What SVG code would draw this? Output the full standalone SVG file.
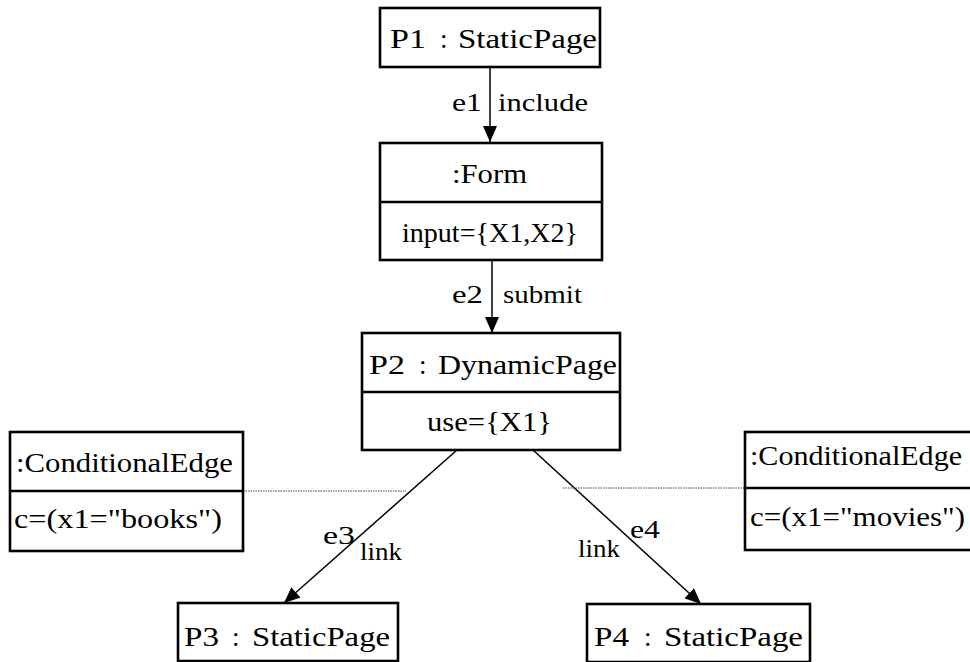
<svg xmlns="http://www.w3.org/2000/svg" width="970" height="662" viewBox="0 0 970 662">
  <style>
    .box { fill: #ffffff; stroke: #000000; stroke-width: 2.6; }
    .div { stroke: #000000; stroke-width: 2.6; fill: none; }
    .t { font-family: "Liberation Serif", "DejaVu Serif", serif; font-size: 27px; fill: #000000; }
    .lbl { font-family: "Liberation Serif", "DejaVu Serif", serif; font-size: 26px; fill: #000000; }
    .edge { stroke: #000000; stroke-width: 1.5; fill: none; }
    .note { stroke: #444444; stroke-width: 1; stroke-dasharray: 1.5 1; fill: none; }
  </style>
  <defs>
    <marker id="arrow" viewBox="0 0 16 14" refX="16" refY="7" markerWidth="16" markerHeight="14" markerUnits="userSpaceOnUse" orient="auto">
      <path d="M0,0 L16,7 L0,14 Z" fill="#000000"/>
    </marker>
  </defs>

  <!-- connectors -->
  <g id="connectors">
    <line class="edge" x1="490" y1="67" x2="490" y2="142" marker-end="url(#arrow)"/>
    <line class="edge" x1="492" y1="260" x2="492" y2="333" marker-end="url(#arrow)"/>
    <line class="edge" x1="457" y1="450" x2="284" y2="603" marker-end="url(#arrow)"/>
    <line class="edge" x1="533" y1="450" x2="701" y2="604" marker-end="url(#arrow)"/>
    <line class="note" x1="243" y1="491" x2="406" y2="491"/>
    <line class="note" x1="563" y1="488" x2="745" y2="488"/>
    <text class="lbl" x="452" y="111" textLength="30" lengthAdjust="spacingAndGlyphs">e1</text>
    <text class="lbl" x="498" y="111" textLength="90" lengthAdjust="spacingAndGlyphs">include</text>
    <text class="lbl" x="452" y="303" textLength="31" lengthAdjust="spacingAndGlyphs">e2</text>
    <text class="lbl" x="503" y="303" textLength="79" lengthAdjust="spacingAndGlyphs">submit</text>
    <text class="lbl" x="323" y="544" textLength="32" lengthAdjust="spacingAndGlyphs">e3</text>
    <text class="lbl" x="360" y="560" textLength="42" lengthAdjust="spacingAndGlyphs">link</text>
    <text class="lbl" x="630" y="538" textLength="30" lengthAdjust="spacingAndGlyphs">e4</text>
    <text class="lbl" x="578" y="557" textLength="42" lengthAdjust="spacingAndGlyphs">link</text>
  </g>

  <!-- P1 : StaticPage -->
  <g id="p1">
    <rect class="box" x="380" y="8" width="220" height="59"/>
    <text class="t" y="48"><tspan x="390" textLength="36" lengthAdjust="spacingAndGlyphs">P1</tspan><tspan x="440">:</tspan><tspan x="458" textLength="139" lengthAdjust="spacingAndGlyphs">StaticPage</tspan></text>
  </g>

  <!-- :Form -->
  <g id="form">
    <rect class="box" x="380" y="143" width="222" height="117"/>
    <line class="div" x1="380" y1="202" x2="602" y2="202"/>
    <text class="t" x="452" y="183" textLength="75" lengthAdjust="spacingAndGlyphs">:Form</text>
    <text class="t" x="402" y="242" textLength="176" lengthAdjust="spacingAndGlyphs">input={X1,X2}</text>
  </g>

  <!-- P2 : DynamicPage -->
  <g id="p2">
    <rect class="box" x="362" y="333" width="258" height="117"/>
    <line class="div" x1="362" y1="392" x2="620" y2="392"/>
    <text class="t" y="374"><tspan x="369" textLength="36" lengthAdjust="spacingAndGlyphs">P2</tspan><tspan x="419">:</tspan><tspan x="438" textLength="179" lengthAdjust="spacingAndGlyphs">DynamicPage</tspan></text>
    <text class="t" x="427" y="431" textLength="125" lengthAdjust="spacingAndGlyphs">use={X1}</text>
  </g>

  <!-- condition on e3 -->
  <g id="cond-books">
    <rect class="box" x="10" y="432" width="233" height="119"/>
    <line class="div" x1="10" y1="491" x2="243" y2="491"/>
    <text class="t" x="16" y="472" textLength="217" lengthAdjust="spacingAndGlyphs">:ConditionalEdge</text>
    <text class="t" x="14" y="528" textLength="208" lengthAdjust="spacingAndGlyphs">c=(x1="books")</text>
  </g>

  <!-- condition on e4 -->
  <g id="cond-movies">
    <rect class="box" x="745" y="432" width="230" height="118"/>
    <line class="div" x1="745" y1="488" x2="975" y2="488"/>
    <text class="t" x="750" y="465" textLength="212" lengthAdjust="spacingAndGlyphs">:ConditionalEdge</text>
    <text class="t" x="750" y="526" textLength="215" lengthAdjust="spacingAndGlyphs">c=(x1="movies")</text>
  </g>

  <!-- P3 : StaticPage -->
  <g id="p3">
    <rect class="box" x="178" y="603" width="220" height="58"/>
    <text class="t" y="646"><tspan x="184" textLength="35" lengthAdjust="spacingAndGlyphs">P3</tspan><tspan x="232">:</tspan><tspan x="252" textLength="138" lengthAdjust="spacingAndGlyphs">StaticPage</tspan></text>
  </g>

  <!-- P4 : StaticPage -->
  <g id="p4">
    <rect class="box" x="587" y="604" width="223" height="58"/>
    <text class="t" y="646"><tspan x="594" textLength="35" lengthAdjust="spacingAndGlyphs">P4</tspan><tspan x="644">:</tspan><tspan x="664" textLength="139" lengthAdjust="spacingAndGlyphs">StaticPage</tspan></text>
  </g>
</svg>
